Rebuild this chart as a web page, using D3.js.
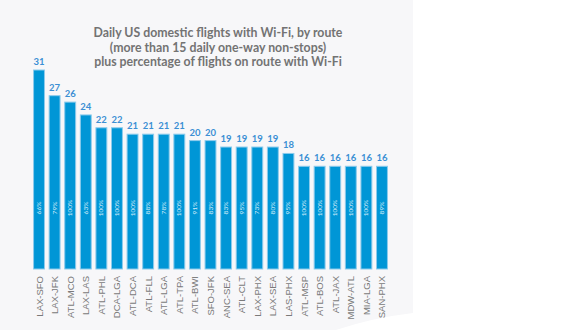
<!DOCTYPE html>
<html>
<head>
<meta charset="utf-8">
<script src="https://cdn.jsdelivr.net/npm/d3@7"></script>
<style>
  body { margin: 0; background: #ffffff; }
  svg { display: block; }
</style>
</head>
<body>
<div id="chart"></div>
<script>
// chart data
const routes = ['LAX-SFO', 'LAX-JFK', 'ATL-MCO', 'LAX-LAS', 'ATL-PHL', 'DCA-LGA', 'ATL-DCA', 'ATL-FLL',
  'ATL-LGA', 'ATL-TPA', 'ATL-BWI', 'SFO-JFK', 'ANC-SEA', 'ATL-CLT', 'LAX-PHX', 'LAX-SEA', 'LAS-PHX',
  'ATL-MSP', 'ATL-BOS', 'ATL-JAX', 'MDW-ATL', 'MIA-LGA', 'SAN-PHX'];
const flights = [31, 27, 26, 24, 22, 22, 21, 21, 21, 21, 20, 20, 19, 19, 19, 19, 18, 16, 16, 16, 16, 16, 16];
const wifiPct = ['66%', '79%', '100%', '63%', '100%', '100%', '100%', '88%', '78%', '100%', '91%', '83%',
  '83%', '95%', '73%', '80%', '95%', '100%', '100%', '100%', '100%', '100%', '89%'];
const titleLines = ['Daily US domestic flights with Wi-Fi, by route',
  '(more than 15 daily one-way non-stops)',
  'plus percentage of flights on route with Wi-Fi'];

const width = 580, height = 330;
const svg = d3.select('#chart').append('svg')
  .attr('width', width).attr('height', height);

// light panel with a curled bottom edge
svg.append('path')
  .attr('d', 'M0,0 H413 V313 Q370,318 330,332 H0 Z')
  .attr('fill', '#f7f7f9');

const baseline = 269;
const x = d3.scaleBand()
  .domain(routes)
  .range([32, 389])
  .paddingInner(0.3)
  .paddingOuter(0.1);
const y = d3.scaleLinear()
  .domain([0, 31])
  .range([baseline, 70]);

// title
svg.append('g')
  .selectAll('text')
  .data(titleLines)
  .join('text')
  .attr('x', 218)
  .attr('y', (d, i) => 37 + i * 14.5)
  .attr('text-anchor', 'middle')
  .attr('font-family', 'Lato, "Open Sans", sans-serif')
  .attr('font-weight', 'bold')
  .attr('font-size', 12.3)
  .attr('fill', '#737373')
  .text(d => d);

const data = routes.map((r, i) => ({ route: r, value: flights[i], pct: wifiPct[i] }));

// bars
svg.append('g')
  .selectAll('rect')
  .data(data)
  .join('rect')
  .attr('x', d => x(d.route))
  .attr('y', d => y(d.value))
  .attr('width', x.bandwidth())
  .attr('height', d => baseline - y(d.value))
  .attr('fill', '#0096d6')
  .attr('stroke', '#8ccbec')
  .attr('stroke-width', 1);

// value labels
svg.append('g')
  .selectAll('text')
  .data(data)
  .join('text')
  .attr('x', d => x(d.route) + x.bandwidth() / 2)
  .attr('y', d => y(d.value) - 5)
  .attr('text-anchor', 'middle')
  .attr('font-family', 'Lato, sans-serif')
  .attr('font-weight', 'bold')
  .attr('font-size', 9.5)
  .attr('fill', '#3b8fd4')
  .text(d => d.value);

// percentage labels inside bars
svg.append('g')
  .selectAll('text')
  .data(data)
  .join('text')
  .attr('transform', d => `translate(${x(d.route) + x.bandwidth() / 2 + 2},208) rotate(-90)`)
  .attr('text-anchor', 'middle')
  .attr('font-family', 'Lato, sans-serif')
  .attr('font-size', 6.5)
  .attr('fill', '#d8eefa')
  .text(d => d.pct);

// category axis
const xAxis = svg.append('g')
  .attr('transform', `translate(0,${baseline})`)
  .call(d3.axisBottom(x).tickSize(0).tickPadding(0));
xAxis.select('.domain').remove();
xAxis.selectAll('text')
  .attr('transform', 'translate(3.5,7) rotate(-90)')
  .attr('text-anchor', 'end')
  .attr('dy', 0)
  .attr('y', 0)
  .attr('font-family', '"Liberation Sans", Arial, sans-serif')
  .attr('font-size', 9.5)
  .attr('fill', '#7a7a7a');
</script>
</body>
</html>
